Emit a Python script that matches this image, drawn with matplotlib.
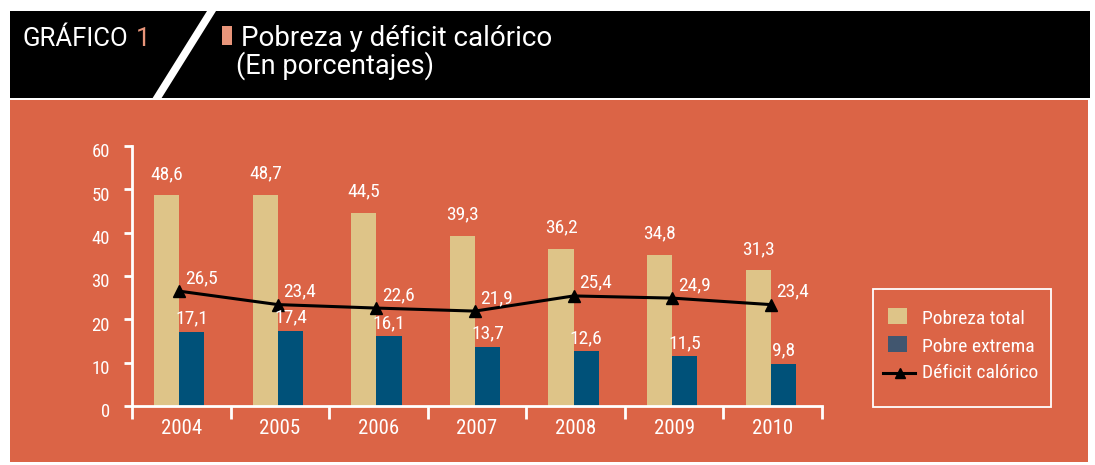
import matplotlib
matplotlib.use("Agg")
import matplotlib.pyplot as plt
from matplotlib.patches import Rectangle, Polygon
from matplotlib import font_manager
from matplotlib.transforms import ScaledTranslation
import numpy as np

years = ["2004", "2005", "2006", "2007", "2008", "2009", "2010"]
pobreza_total = [48.6, 48.7, 44.5, 39.3, 36.2, 34.8, 31.3]
pobre_extrema = [17.1, 17.4, 16.1, 13.7, 12.6, 11.5, 9.8]
deficit_calorico = [26.5, 23.4, 22.6, 21.9, 25.4, 24.9, 23.4]
y_ticks = [0, 10, 20, 30, 40, 50, 60]
legend_labels = ["Pobreza total", "Pobre extrema", "Déficit calórico"]

available = {f.name for f in font_manager.fontManager.ttflist}
narrow = 'Roboto Condensed' if 'Roboto Condensed' in available else 'Roboto'
plt.rcParams['font.family'] = [narrow, 'DejaVu Sans']
WIDE = ['Roboto', 'DejaVu Sans']

ORANGE = '#DB6446'
TAN = '#DEC488'
BLUE = '#005179'
BLUE_LEG = '#41566F'
SALMON = '#E8957A'

W, H = 1095, 465
fig = plt.figure(figsize=(W / 100, H / 100), dpi=100)
fig.patch.set_facecolor('white')

bg = fig.add_axes([0, 0, 1, 1])
bg.set_xlim(0, W)
bg.set_ylim(H, 0)
bg.axis('off')
bg.add_patch(Rectangle((10, 11), 1080, 87, facecolor='black', edgecolor='none'))
bg.add_patch(Rectangle((10, 100), 1078, 362, facecolor=ORANGE, edgecolor='none'))
bg.add_patch(Polygon([(152, 99), (161, 99), (216, 11), (207, 11)], closed=True,
                     facecolor='white', edgecolor='none'))
bg.text(22, 45.5, "GRÁFICO", color='white', fontsize=18.5, va='baseline',
        ha='left', family=WIDE)
bg.text(136, 45.5, "1", color=SALMON, fontsize=18.5, va='baseline', ha='left',
        family=WIDE)
bg.add_patch(Rectangle((222, 26), 10, 19, facecolor=SALMON, edgecolor='none'))
bg.text(241, 45.5, "Pobreza y déficit calórico", color='white', fontsize=20,
        va='baseline', ha='left', family=WIDE)
bg.text(236, 74, "(En porcentajes)", color='white', fontsize=19.5,
        va='baseline', ha='left', family=WIDE)

# manual legend
bg.add_patch(Rectangle((873, 289), 178, 118, facecolor='none', edgecolor='white',
                       lw=1.3))
bg.add_patch(Rectangle((888, 308), 19, 16, facecolor=TAN, edgecolor='none'))
bg.add_patch(Rectangle((888, 336), 19, 16, facecolor=BLUE_LEG, edgecolor='none'))
bg.plot([883, 915], [373, 373], color='black', lw=2.2)
bg.plot([900], [373], color='black', marker='^', markersize=7)
for lab, yb in zip(legend_labels, [324, 352, 378]):
    bg.text(922, yb, lab, color='white', fontsize=14, va='baseline', ha='left')

# main axes
ax = fig.add_axes([132 / W, 1 - 406 / H, (822 - 132) / W, (406 - 146) / H])
ax.patch.set_alpha(0)
x = np.arange(len(years))
bw = 0.255
off = -0.02
ax.bar(x - bw / 2 + off, pobreza_total, width=bw, color=TAN, zorder=2)
ax.bar(x + bw / 2 + off, pobre_extrema, width=bw, color=BLUE, zorder=2)
ax.plot(x + off, deficit_calorico, color='black', lw=2.2, marker='^',
        markersize=8, zorder=3)

for i in range(len(years)):
    ax.annotate(f"{pobreza_total[i]:.1f}".replace('.', ','),
                (x[i] - bw / 2 + off, pobreza_total[i]), xytext=(0, 9),
                textcoords='offset points', ha='center', va='bottom',
                color='white', fontsize=14)
    ax.annotate(f"{pobre_extrema[i]:.1f}".replace('.', ','),
                (x[i] + bw / 2 + off, pobre_extrema[i]), xytext=(0, 3),
                textcoords='offset points', ha='center', va='bottom',
                color='white', fontsize=14)
    ax.annotate(f"{deficit_calorico[i]:.1f}".replace('.', ','),
                (x[i] + off, deficit_calorico[i]), xytext=(4, 3),
                textcoords='offset points', ha='left', va='bottom',
                color='white', fontsize=14)

ax.set_xlim(-0.5, len(years) - 0.5)
ax.set_ylim(0, 60)
ax.set_yticks(y_ticks)
ax.set_xticks(x)
ax.set_xticklabels(years)
ax.set_xticks(np.arange(-0.5, len(years), 1.0), minor=True)
ax.tick_params(axis='x', which='major', length=0, colors='white',
               labelsize=15, pad=9)
ax.tick_params(axis='x', which='minor', length=9, width=2, color='white',
               direction='out')
ax.tick_params(axis='y', length=6, width=2, color='white', labelcolor='white',
               labelsize=13.5, pad=10)
shift = ScaledTranslation(0, -3 / 72, fig.dpi_scale_trans)
for lbl in ax.get_yticklabels():
    lbl.set_transform(lbl.get_transform() + shift)
for s in ['top', 'right']:
    ax.spines[s].set_visible(False)
for s in ['left', 'bottom']:
    ax.spines[s].set_color('white')
    ax.spines[s].set_linewidth(2)

fig.savefig('out.png', dpi=100)
